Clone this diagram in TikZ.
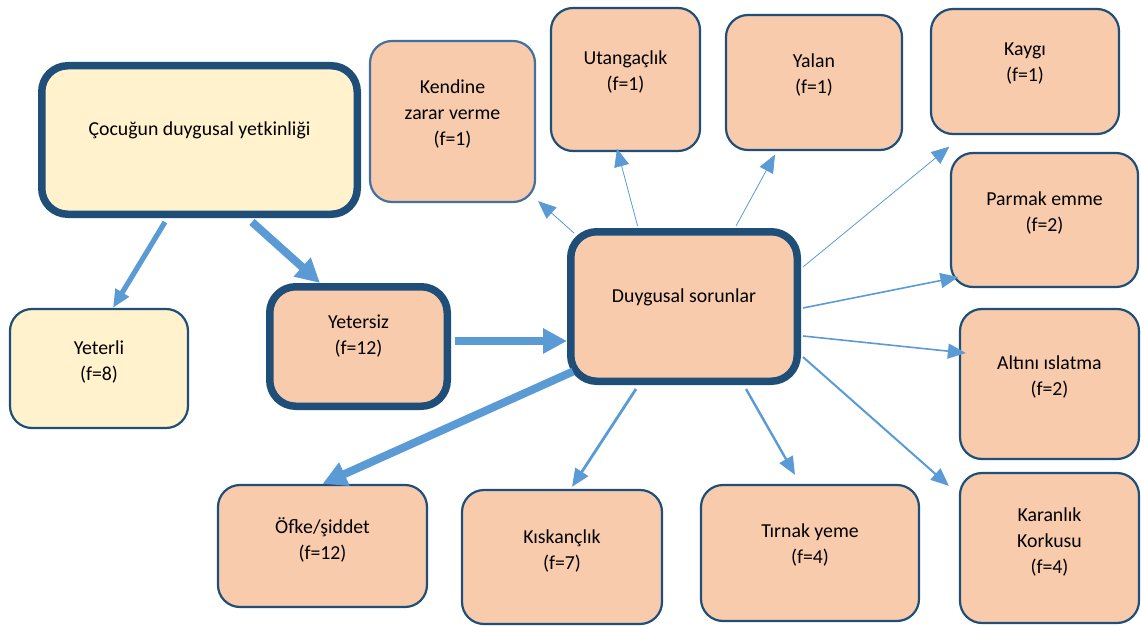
\documentclass[tikz,border=0pt]{standalone}
\usepackage{fontspec}
\setmainfont{Carlito}
\usepackage{tikz}
\usetikzlibrary{arrows.meta}
\usetikzlibrary{positioning}

\definecolor{arrc}{HTML}{5B9BD5}
\definecolor{peach}{HTML}{F8CBAD}
\definecolor{cream}{HTML}{FFF2CC}
\definecolor{navy}{HTML}{1F4E79}
\definecolor{steel}{HTML}{41719C}

\begin{document}
\begin{tikzpicture} [x=.5pt, y=-.5pt,
  pbox/.style={draw=navy, fill=peach, line width=1.1pt, rounded corners=11pt, inner sep=0pt},
  kbox/.style={pbox, draw=steel},
  ybox/.style={pbox, fill=cream},
  pbig/.style={pbox, line width=3.75pt, rounded corners=13pt},
  ybig/.style={pbig, fill=cream},
  txt/.style={align=center, inner sep=0pt, font=\fontsize{9.9}{13}\selectfont},
  link/.style={draw=arrc, line width=#1, -{Triangle[length=9pt, width=7.5pt]}},
  bigl/.style={draw=arrc, line width=#1, -{Triangle[length=12pt, width=12pt]}}]
\useasboundingbox (0,0) rectangle (1141,626);

% boxes: name/style/x/y/w/h/gap/text
\foreach \nm/\st/\x/\y/\w/\h/\g/\txt in {
  kendine/kbox/452.5/121.5/165/161/19.6/{Kendine\\zarar verme\\(f=1)},
  utang/pbox/625.5/79.5/149/143/21.6/{Utangaçlık\\(f=1)},
  yalan/pbox/814/82.5/176/135/19.6/{Yalan\\(f=1)},
  kaygi/pbox/1025/71.5/188/125/17.1/{Kaygı\\(f=1)},
  parmak/pbox/1044.5/220/187/134/19.6/{Parmak emme\\(f=2)},
  altini/pbox/1049.5/384/179/150/23.6/{Altını ıslatma\\(f=2)},
  karanlik/pbox/1049.5/548/179/150/17.6/{Karanlık\\Korkusu\\(f=4)},
  ofke/pbox/322.5/546/209/122/16.6/{Öfke/şiddet\\(f=12)},
  kiskanc/pbox/562/557/200/134/20.1/{Kıskançlık\\(f=7)},
  tirnak/pbox/810/553/218/136/19.6/{Tırnak yeme\\(f=4)},
  yeterli/ybox/99/368.5/178/119/16.1/{Yeterli\\(f=8)},
  yetersiz/pbig/358.5/346.5/177.5/119.5/15.7/{Yetersiz\\(f=12)},
  cocuk/ybig/199.5/140/315.5/148.5/29.7/{Çocuğun duygusal yetkinliği},
  duyg/pbig/684/306.5/226.5/149.5/30.2/{Duygusal sorunlar}}
{
  \node[\st, minimum width=\w*.5pt, minimum height=\h*.5pt] (\nm) at (\x,\y) {};
  \node[txt, below=\g pt of \nm.north] (\nm-t) {\txt};
}

% arrows
\draw[link=2.6pt] ([xshift=-17.25pt,yshift=-2pt]cocuk.south) -- ([xshift=7pt]yeterli.north);
\draw[bigl=4pt] ([xshift=26.25pt,yshift=-2pt]cocuk.south) -- ([xshift=-19.25pt]yetersiz.north);
\draw[bigl=4pt] ([xshift=2pt,yshift=2.75pt]yetersiz.east) -- ([yshift=-17.25pt]duyg.west);
\draw[bigl=4pt] ([xshift=3pt,yshift=-32.5pt]duyg.west) -- (ofke.north);
\draw[link=1.4pt] ([xshift=-24pt,yshift=-2pt]duyg.south) -- ([xshift=5pt,yshift=1pt]kiskanc.north);
\draw[link=1.2pt] ([xshift=31pt,yshift=-2pt]duyg.south) -- ([xshift=-7.5pt,yshift=4.5pt]tirnak.north);
\draw[link=1pt] ([xshift=1pt,yshift=-25.25pt]duyg.east) -- ([xshift=-5pt,yshift=-7pt]karanlik.north west);
\draw[link=.8pt] ([xshift=1pt,yshift=-14.75pt]duyg.east) -- ([xshift=3.5pt,yshift=15.5pt]altini.west);
\draw[link=.8pt] ([xshift=1pt,yshift=-.75pt]duyg.east) -- ([xshift=4.25pt,yshift=-28.5pt]parmak.west);
\draw[link=.4pt] ([xshift=1pt,yshift=19.75pt]duyg.east) -- ([xshift=9.75pt,yshift=-5.75pt]kaygi.south west);
\draw[link=.4pt] ([xshift=26pt,yshift=1pt]duyg.north) -- ([xshift=-19.5pt,yshift=-1.75pt]yalan.south);
\draw[link=.4pt] ([xshift=-23.2pt,yshift=1pt]duyg.north) -- ([xshift=-4.25pt,yshift=1.75pt]utang.south);
\draw[link=.4pt] ([xshift=3.5pt,yshift=-2.5pt]duyg.north west) -- ([xshift=1pt,yshift=1pt]kendine.south east);

\end{tikzpicture}
\end{document}
